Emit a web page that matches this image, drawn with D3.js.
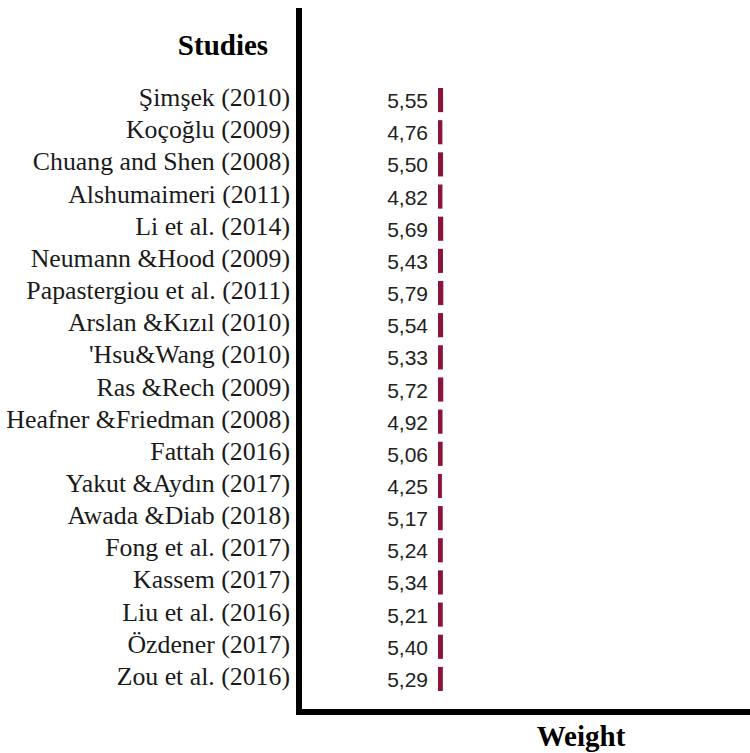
<!DOCTYPE html>
<html>
<head>
<meta charset="utf-8">
<script src="https://cdn.jsdelivr.net/npm/d3@7"></script>
<style>
  body { margin: 0; background: #fff; }
</style>
</head>
<body>
<div id="chart"></div>
<script>
const studies = [
  "Şimşek (2010)", "Koçoğlu (2009)", "Chuang and Shen (2008)", "Alshumaimeri (2011)",
  "Li et al. (2014)", "Neumann &Hood (2009)", "Papastergiou et al. (2011)", "Arslan &Kızıl (2010)",
  "'Hsu&Wang (2010)", "Ras &Rech (2009)", "Heafner &Friedman (2008)", "Fattah (2016)",
  "Yakut &Aydın (2017)", "Awada &Diab (2018)", "Fong et al. (2017)", "Kassem (2017)",
  "Liu et al. (2016)", "Özdener (2017)", "Zou et al. (2016)"
]
const weights = [5.55, 4.76, 5.50, 4.82, 5.69, 5.43, 5.79, 5.54, 5.33, 5.72,
                 4.92, 5.06, 4.25, 5.17, 5.24, 5.34, 5.21, 5.40, 5.29]

const BAR_COLOR = "#8a1538"
let width = 750, height = 753

let svg = d3.select("#chart").append("svg").attr("width", width).attr("height", height)

let y = d3.scaleBand().domain(studies).range([84, 695]).paddingInner(0.25).paddingOuter(0.125)
let x = d3.scaleLinear().domain([0, 6]).range([438, 443.5])

// bars
svg.append("g").selectAll("rect").data(studies).join("rect")
  .attr("x", x(0))
  .attr("y", d => y(d))
  .attr("width", (d, i) => x(weights[i]) - x(0))
  .attr("height", y.bandwidth())
  .attr("fill", BAR_COLOR)

// value labels
svg.append("g").selectAll("text").data(studies).join("text")
  .text((d, i) => weights[i].toFixed(2).replace(".", ","))
  .attr("x", 428)
  .attr("y", d => y(d) + y.bandwidth() / 2 + 8)
  .attr("text-anchor", "end")
  .attr("font-family", "'Liberation Sans', Arial, sans-serif")
  .attr("font-size", "21px")
  .attr("fill", "#222")

// study labels
svg.append("g").selectAll("text").data(studies).join("text")
  .text(d => d)
  .attr("x", 290)
  .attr("y", d => y(d) + y.bandwidth() / 2 + 6)
  .attr("text-anchor", "end")
  .attr("font-family", "'Liberation Serif', 'Times New Roman', serif")
  .attr("font-size", "25.8px")
  .attr("fill", "#1a1a1a")

// frame (left + bottom)
svg.append("path")
  .attr("d", "M299,8 V712 H750")
  .attr("fill", "none")
  .attr("stroke", "#000")
  .attr("stroke-width", 6)

svg.append("text").text("Studies")
  .attr("x", 223).attr("y", 55)
  .attr("text-anchor", "middle")
  .attr("font-family", "'Liberation Serif', 'Times New Roman', serif")
  .attr("font-weight", "bold")
  .attr("font-size", "29px")

svg.append("text").text("Weight")
  .attr("x", 581).attr("y", 746)
  .attr("text-anchor", "middle")
  .attr("font-family", "'Liberation Serif', 'Times New Roman', serif")
  .attr("font-weight", "bold")
  .attr("font-size", "29px")
</script>
</body>
</html>
